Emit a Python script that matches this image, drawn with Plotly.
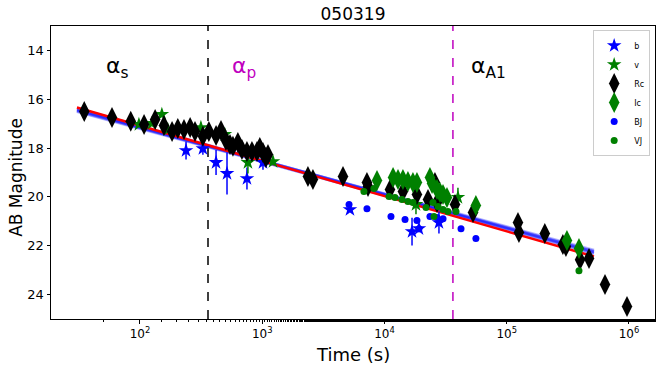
import plotly.graph_objects as go

# ---- data ----
rc_t = [35, 59, 84, 108, 133, 157, 183, 204, 229, 257, 282, 327, 366, 419, 460, 505, 545, 576, 632,
        682, 750, 824, 906, 955, 1014, 1072, 1114, 2366, 2600, 4580, 7190, 7330, 11090, 14160, 18440,
        22690, 25880, 26900, 37770, 52980, 123600, 125900, 205000, 288000, 305000, 398000, 471000,
        637000, 964000]
rc_mag = [16.5, 16.75, 16.9, 17.03, 16.83, 17.07, 17.32, 17.2, 17.24, 17.16, 17.32, 17.52, 17.32, 17.48,
          17.28, 17.69, 17.85, 17.93, 17.77, 18.06, 18.14, 18.14, 18.14, 17.98, 18.18, 18.39, 18.26,
          19.16, 19.29, 19.16, 19.41, 19.57, 19.70, 19.78, 19.90, 20.11, 19.41, 20.23, 20.31, 20.64,
          21.05, 21.46, 21.5, 21.95, 22.03, 22.57, 22.52, 23.59, 24.49]

ic_t = [8690, 11750, 12900, 14160, 15560, 17100, 18440, 23550, 24500, 26900, 28460, 30130, 32450,
        55960, 311000, 390000]
ic_mag = [19.33, 19.2, 19.29, 19.29, 19.37, 19.41, 19.41, 19.2, 19.45, 19.7, 19.82, 19.9, 20.02,
          20.35, 21.79, 22.11]

vj_t = [6790, 8200, 10890, 12190, 13900, 15560, 17100, 21870, 24930, 25400, 27400, 30130, 33040,
        38450, 390000]
vj_mag = [19.78, 19.66, 19.98, 20.02, 20.11, 20.19, 20.23, 20.43, 20.23, 20.8, 20.39, 20.52, 20.6,
          20.6, 23.02]

bj_t = [5130, 7190, 11300, 14730, 18440, 19150, 23550, 26900, 30130, 42270, 55960]
bj_mag = [20.31, 20.48, 20.8, 20.93, 20.97, 21.3, 20.8, 20.84, 20.89, 21.3, 21.7]

b_t = [238, 327, 419, 515, 750, 1014, 5220, 16800, 19150, 27900]
b_mag = [18.1, 18.02, 18.59, 19.04, 19.25, 18.59, 20.52, 21.42, 21.3, 21.05]
b_err = [0.37, 0.25, 0.51, 0.86, 0.45, 0.3, 0.1, 0.57, 0.15, 0.45]

v_t = [98, 125, 151, 169, 315, 495, 764, 1225, 18100, 39900]
v_mag = [17.03, 16.99, 16.62, 17.24, 17.16, 17.44, 18.59, 18.55, 20.31, 20.02]
v_err = [0.1, 0.1, 0.1, 0.1, 0.2, 0.15, 0.45, 0.15, 0.4, 0.4]

# fit model: endpoints of best fit (red) and posterior samples (blue)
fit_t = [30.5, 517000]
fit_mag = [16.34, 22.44]
band_start = [16.38, 16.42, 16.45, 16.48, 16.44, 16.50]
band_end = [22.30, 22.26, 22.22, 22.18, 22.32, 22.24]

break_s = 360
break_a1 = 36300

x_tickvals = [1e2, 1e3, 1e4, 1e5, 1e6]
x_ticktext = ["10<sup>2</sup>", "10<sup>3</sup>", "10<sup>4</sup>", "10<sup>5</sup>", "10<sup>6</sup>"]
y_tickvals = [14, 16, 18, 20, 22, 24]
y_range = [25, 13.0]

FONT = "DejaVu Sans"
MAG = "#BF00BF"

fig = go.Figure()

for s, e in zip(band_start, band_end):
    fig.add_trace(go.Scatter(x=fit_t, y=[s, e], mode="lines",
                             line=dict(color="rgba(0,0,255,0.28)", width=3),
                             showlegend=False, hoverinfo="skip"))
fig.add_trace(go.Scatter(x=fit_t, y=fit_mag, mode="lines",
                         line=dict(color="red", width=2.5), showlegend=False))

fig.add_trace(go.Scatter(x=[break_s, break_s], y=y_range, mode="lines",
                         line=dict(color="black", width=1.5, dash="dash"), showlegend=False))
fig.add_trace(go.Scatter(x=[break_a1, break_a1], y=y_range, mode="lines",
                         line=dict(color=MAG, width=1.5, dash="dash"), showlegend=False))

fig.add_trace(go.Scatter(x=b_t, y=b_mag, mode="markers", name="b",
                         marker=dict(symbol="star", size=11, color="blue"),
                         error_y=dict(type="data", array=b_err, color="blue", thickness=1.5, width=0)))
fig.add_trace(go.Scatter(x=v_t, y=v_mag, mode="markers", name="v",
                         marker=dict(symbol="star", size=11, color="green"),
                         error_y=dict(type="data", array=v_err, color="green", thickness=1.5, width=0)))
fig.add_trace(go.Scatter(x=rc_t, y=rc_mag, mode="markers", name="Rc",
                         marker=dict(symbol="diamond-tall", size=15, color="black")))
fig.add_trace(go.Scatter(x=ic_t, y=ic_mag, mode="markers", name="Ic",
                         marker=dict(symbol="diamond-tall", size=15, color="green")))
fig.add_trace(go.Scatter(x=bj_t, y=bj_mag, mode="markers", name="BJ",
                         marker=dict(symbol="circle", size=7, color="blue")))
fig.add_trace(go.Scatter(x=vj_t, y=vj_mag, mode="markers", name="VJ",
                         marker=dict(symbol="circle", size=7, color="green")))

ann_font = dict(family=FONT, size=22)
fig.add_annotation(x=0.0875, y=0.915, xref="paper", yref="paper", text="α<sub>s</sub>",
                   showarrow=False, font=dict(**ann_font, color="black"))
fig.add_annotation(x=0.297, y=0.915, xref="paper", yref="paper", text="α<sub>p</sub>",
                   showarrow=False, font=dict(**ann_font, color=MAG))
fig.add_annotation(x=0.757, y=0.915, xref="paper", yref="paper", text="α<sub>A1</sub>",
                   showarrow=False, font=dict(**ann_font, color="black"))

# axis titles placed as annotations (matplotlib-like positions)
fig.add_annotation(x=0.5, y=-0.12, xref="paper", yref="paper", text="Time (s)", showarrow=False,
                   yanchor="middle", font=dict(family=FONT, size=18, color="black"))
fig.add_annotation(x=-0.058, y=0.485, xref="paper", yref="paper", text="AB Magnitude",
                   showarrow=False, textangle=-90, xanchor="center", yanchor="middle",
                   font=dict(family=FONT, size=17, color="black"))

fig.update_layout(
    width=664, height=367,
    margin=dict(l=51, r=9, t=26, b=48, autoexpand=False),
    paper_bgcolor="white", plot_bgcolor="white",
    font=dict(family=FONT, color="black"),
    title=dict(text="050319", x=0.5, xref="paper", y=1 - 14 / 367, yref="container",
               yanchor="middle", xanchor="center", font=dict(size=17, family=FONT)),
    legend=dict(x=0.992, y=0.986, xanchor="right", yanchor="top", font=dict(size=8, family=FONT),
                bgcolor="white", bordercolor="#cccccc", borderwidth=1, itemwidth=30,
                tracegroupgap=0),
)
fig.update_xaxes(type="log", range=[1.272, 6.213], tickvals=x_tickvals, ticktext=x_ticktext,
                 ticks="outside", ticklen=3.5, tickcolor="black", tickfont=dict(size=12),
                 showline=True, linecolor="black", linewidth=1, mirror=True, showgrid=False,
                 zeroline=False, automargin=False,
                 minor=dict(ticks="outside", ticklen=2, tickcolor="black", showgrid=False))
fig.update_yaxes(range=y_range, tickvals=y_tickvals, ticks="outside", ticklen=3.5, tickcolor="black",
                 tickfont=dict(size=13), showline=True, linecolor="black", linewidth=1, mirror=True,
                 showgrid=False, zeroline=False, automargin=False)

fig.write_html("out.html", config={"displayModeBar": False},
               post_script="document.body.style.margin='0';document.body.style.overflow='hidden';")
